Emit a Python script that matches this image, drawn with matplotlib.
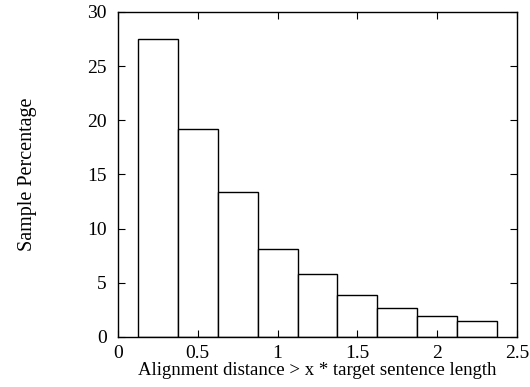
import numpy as np
import matplotlib
matplotlib.use("Agg")
import matplotlib.pyplot as plt

plt.rcParams['font.family'] = ['Liberation Serif', 'DejaVu Serif']

# Bin centres (x * target sentence length) and sample percentages.
bin_centres = [0.25, 0.5, 0.75, 1.0, 1.25, 1.5, 1.75, 2.0, 2.25]
percentages = [27.5, 19.2, 13.4, 8.1, 5.8, 3.85, 2.7, 1.9, 1.45]
x_ticks = [0, 0.5, 1, 1.5, 2, 2.5]
x_tick_labels = ["0", "0.5", "1", "1.5", "2", "2.5"]
y_ticks = [0, 5, 10, 15, 20, 25, 30]

fig = plt.figure(figsize=(5.3, 3.87), dpi=100)
ax = fig.add_axes([0.2226, 0.1292, 0.7529, 0.8398])

ax.bar(bin_centres, percentages, width=0.25, color="white",
       edgecolor="black", linewidth=1.0)

ax.set_xlim(0, 2.5)
ax.set_ylim(0, 30)
ax.set_xticks(x_ticks)
ax.set_xticklabels(x_tick_labels)
ax.set_yticks(y_ticks)
ax.tick_params(direction="in", top=True, right=True, length=5,
               labelsize=14, pad=6)
ax.tick_params(axis="y", pad=8)
for s in ax.spines.values():
    s.set_linewidth(1.0)

ax.set_xlabel("Alignment distance > x * target sentence length",
              fontsize=13.5, labelpad=0)
ax.set_ylabel("Sample Percentage", fontsize=14.5, labelpad=36)

fig.savefig("out.png", dpi=100)
